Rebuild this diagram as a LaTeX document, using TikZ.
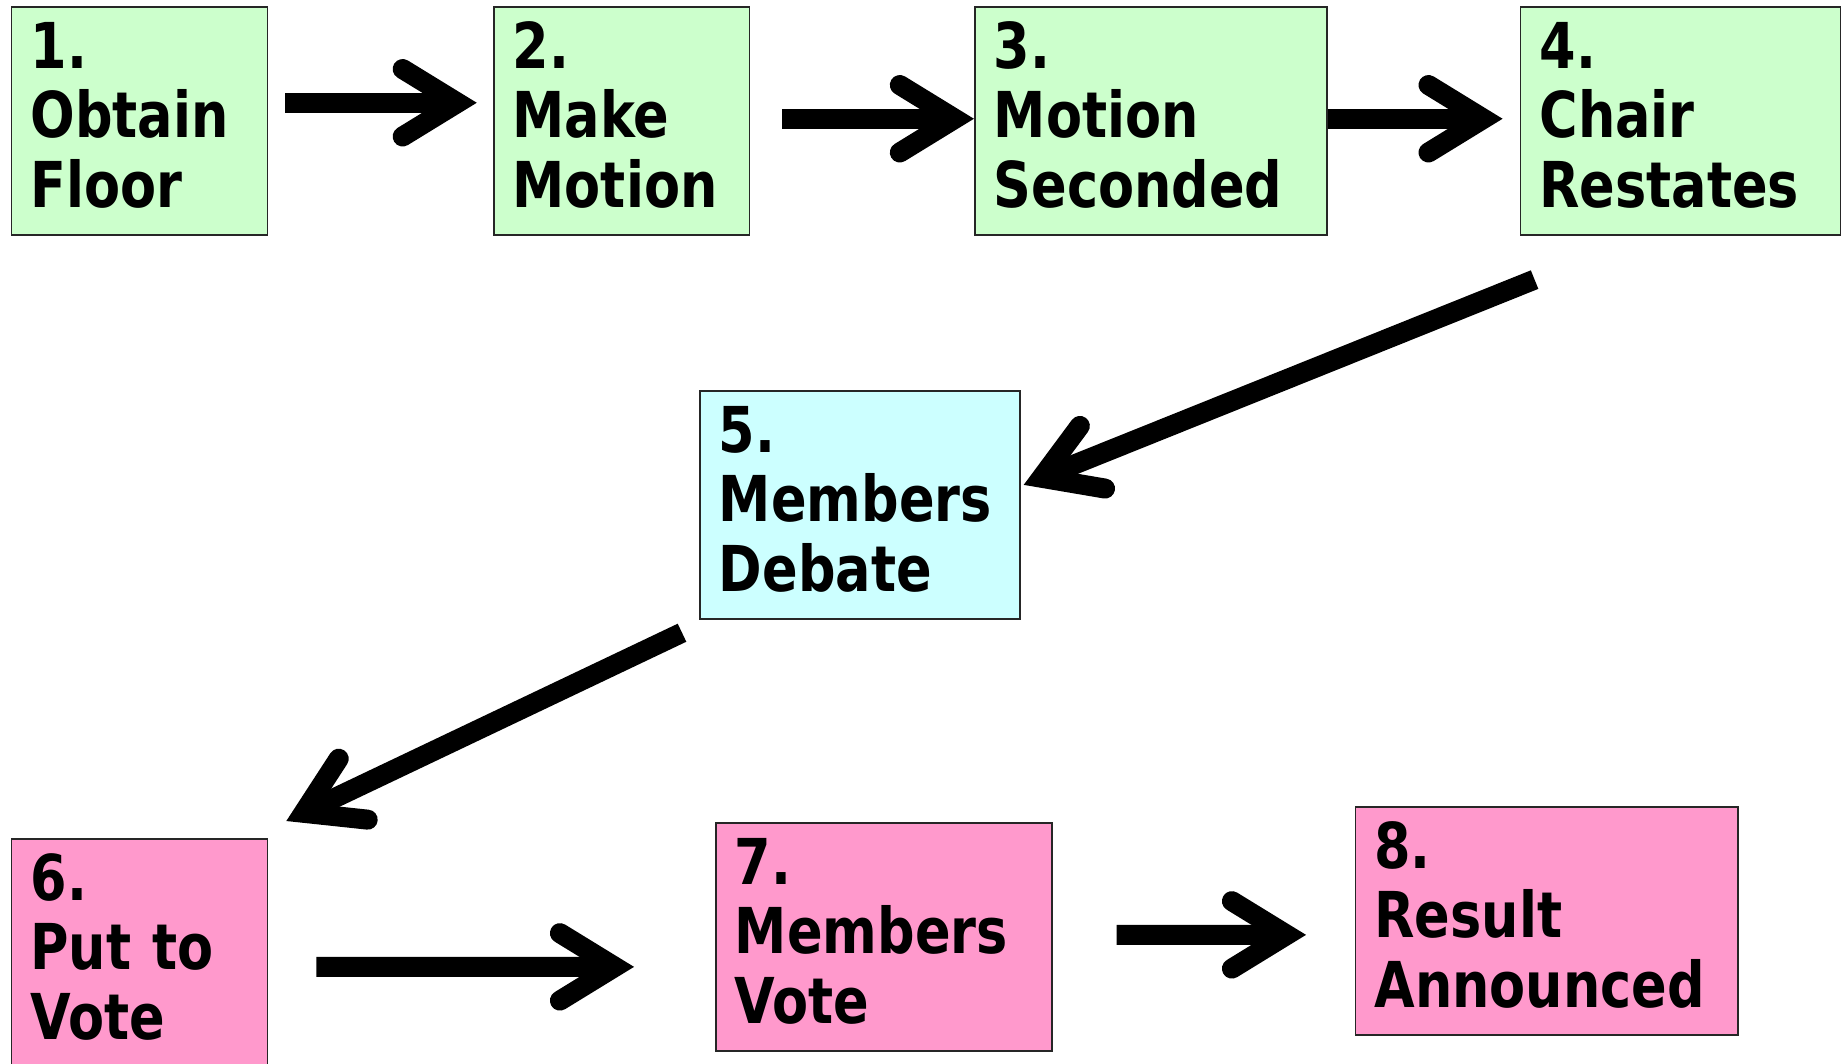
\documentclass[tikz,border=0pt]{standalone}
\usepackage{fontspec}
\usepackage{tikz}
\usetikzlibrary{positioning, arrows.meta}
\newfontfamily\stepfont[FakeStretch=0.83]{DejaVu Sans}
\definecolor{stepgreen}{HTML}{CCFFCC}
\definecolor{stepcyan}{HTML}{CCFFFF}
\definecolor{steppink}{HTML}{FF99CC}

\begin{document}
\begin{tikzpicture}[x=0.02cm, y=-0.02cm,
  stepbox/.style = {draw=black!85, line width=1pt, anchor=north west,
    minimum height=4.56cm, inner xsep=0.38cm, inner ysep=0pt, align=left,
    text height=0.7cm, font=\stepfont\bfseries\fontsize{36pt}{39.4pt}\selectfont},
  flow/.style = {line width=0.4cm,
    -{Straight Barb[length=1.1cm, width=1.35cm, line cap=round, line join=miter]}}]
\useasboundingbox (0,0) rectangle (1842,1063);
% top row
\node[stepbox, fill=stepgreen, text width=4.36cm] (floor) at (10.6,5.9) {1.\\Obtain\\Floor};
\node[stepbox, fill=stepgreen, text width=4.36cm, right=4.49cm of floor] (motion) {2.\\Make\\Motion};
\node[stepbox, fill=stepgreen, text width=6.28cm, right=4.47cm of motion] (second) {3.\\Motion\\Seconded};
\node[stepbox, fill=stepgreen, text width=5.64cm, right=3.84cm of second] (restate) {4.\\Chair\\Restates};
% middle
\node[stepbox, fill=stepcyan, text width=5.64cm] (debate) at (699,390) {5.\\Members\\Debate};
% bottom row
\node[stepbox, fill=steppink, text width=4.36cm] (put) at (10.6,838) {6.\\Put to\\Vote};
\node[stepbox, fill=steppink, text width=5.96cm] (vote) at (715,822) {7.\\Members\\Vote};
\node[stepbox, fill=steppink, text width=6.9cm] (result) at (1354.5,806) {8.\\Result\\Announced};
\draw[flow] ([xshift=0.34cm, yshift=0.36cm]floor.east) -- ([xshift=-0.32cm, yshift=0.36cm]motion.west);
\draw[flow] ([xshift=0.64cm, yshift=0.04cm]motion.east) -- ([yshift=0.04cm]second.west);
\draw[flow] ([yshift=0.04cm]second.east) -- ([xshift=-0.34cm, yshift=0.04cm]restate.west);
\draw[flow] ([xshift=0.3cm, yshift=-0.88cm]restate.south west) -- ([xshift=0.06cm, yshift=0.4cm]debate.east);
\draw[flow] ([xshift=-0.34cm, yshift=-0.26cm]debate.south west) -- ([xshift=0.36cm, yshift=0.34cm]put.north east);
\draw[flow] ([xshift=0.96cm, yshift=-0.28cm]put.east) -- ([xshift=-1.62cm, yshift=-0.6cm]vote.west);
\draw[flow] ([xshift=1.28cm, yshift=0.04cm]vote.east) -- ([xshift=-0.97cm, yshift=-0.28cm]result.west);
\end{tikzpicture}
\end{document}
